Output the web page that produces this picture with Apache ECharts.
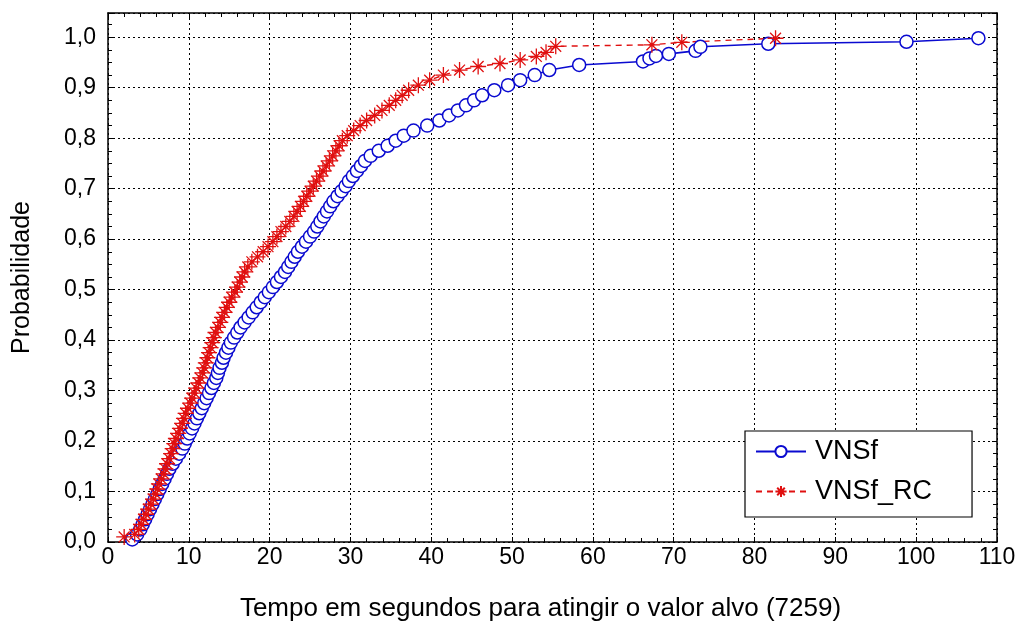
<!DOCTYPE html>
<html>
<head>
<meta charset="utf-8">
<script src="https://cdn.jsdelivr.net/npm/echarts@6/dist/echarts.min.js"></script>
<style>html,body{margin:0;padding:0;background:#fff}#c{width:1023px;height:630px}</style>
</head>
<body>
<div id="c"></div>
<script>
// ---- data ----
var xTicks = [0, 10, 20, 30, 40, 50, 60, 70, 80, 90, 100, 110];
var yTicks = [0, 0.1, 0.2, 0.3, 0.4, 0.5, 0.6, 0.7, 0.8, 0.9, 1.0];
var seriesNames = ['VNSf', 'VNSf_RC'];

var vnsfTime = [3.0, 3.6, 4.0, 4.3, 4.6, 4.9, 5.2, 5.5, 5.8, 6.1,
  6.4, 6.7, 7.0, 7.3, 7.6, 8.0, 8.4, 8.8, 9.2, 9.5,
  9.8, 10.1, 10.4, 10.7, 11.0, 11.3, 11.6, 11.9, 12.2, 12.5,
  12.8, 13.1, 13.4, 13.6, 13.8, 14.1, 14.3, 14.6, 14.9, 15.2,
  15.6, 16.0, 16.4, 16.9, 17.4, 17.9, 18.4, 18.9, 19.4, 19.9,
  20.4, 20.9, 21.4, 21.9, 22.3, 22.7, 23.1, 23.5, 24.0, 24.5,
  25.0, 25.5, 25.9, 26.3, 26.7, 27.1, 27.5, 27.9, 28.4, 28.9,
  29.4, 29.8, 30.3, 30.8, 31.3, 31.8, 32.5, 33.5, 34.6, 35.6,
  36.6, 37.8, 39.5, 41.0, 42.2, 43.3, 44.3, 45.3, 46.3, 47.8,
  49.5, 51.0, 52.8, 54.6, 58.3, 66.2, 67.0, 67.8, 69.4, 72.7,
  73.3, 81.7, 98.8, 107.7];
var vnsfProb = [0.005, 0.015, 0.025, 0.035, 0.045, 0.055, 0.065, 0.075, 0.085, 0.095,
  0.105, 0.115, 0.125, 0.135, 0.145, 0.155, 0.165, 0.175, 0.185, 0.195,
  0.205, 0.215, 0.225, 0.235, 0.245, 0.255, 0.265, 0.275, 0.285, 0.295,
  0.305, 0.315, 0.325, 0.335, 0.345, 0.355, 0.365, 0.375, 0.385, 0.395,
  0.405, 0.415, 0.425, 0.435, 0.445, 0.455, 0.465, 0.475, 0.485, 0.495,
  0.505, 0.515, 0.525, 0.535, 0.545, 0.555, 0.565, 0.575, 0.585, 0.595,
  0.605, 0.615, 0.625, 0.635, 0.645, 0.655, 0.665, 0.675, 0.685, 0.695,
  0.705, 0.715, 0.725, 0.735, 0.745, 0.755, 0.765, 0.775, 0.785, 0.795,
  0.805, 0.815, 0.825, 0.835, 0.845, 0.855, 0.865, 0.875, 0.885, 0.895,
  0.905, 0.915, 0.925, 0.935, 0.945, 0.952, 0.958, 0.963, 0.967, 0.973,
  0.981, 0.987, 0.991, 0.998];

var vnsfRcTime = [2.0, 3.3, 3.8, 4.1, 4.4, 4.7, 5.0, 5.3, 5.6, 5.9,
  6.1, 6.3, 6.6, 6.9, 7.1, 7.3, 7.6, 7.8, 8.0, 8.2,
  8.4, 8.7, 8.9, 9.2, 9.4, 9.6, 9.9, 10.2, 10.4, 10.7,
  10.9, 11.2, 11.4, 11.7, 11.9, 12.1, 12.3, 12.5, 12.7, 12.9,
  13.1, 13.3, 13.6, 13.9, 14.1, 14.4, 14.7, 15.0, 15.3, 15.7,
  16.0, 16.3, 16.6, 16.9, 17.3, 17.8, 18.5, 19.2, 19.8, 20.4,
  20.9, 21.4, 22.0, 22.5, 23.0, 23.4, 23.8, 24.2, 24.6, 25.0,
  25.4, 25.8, 26.2, 26.6, 27.0, 27.4, 27.8, 28.2, 28.6, 29.0,
  29.6, 30.4, 31.2, 32.0, 33.0, 33.9, 34.8, 35.6, 36.4, 37.2,
  38.4, 39.8, 41.5, 43.5, 45.8, 48.5, 51.0, 53.0, 54.2, 55.4,
  67.3, 71.0, 82.6];
var vnsfRcProb = [0.01, 0.015, 0.025, 0.035, 0.045, 0.055, 0.065, 0.075, 0.085, 0.095,
  0.105, 0.115, 0.125, 0.135, 0.145, 0.155, 0.165, 0.175, 0.185, 0.195,
  0.205, 0.215, 0.225, 0.235, 0.245, 0.255, 0.265, 0.275, 0.285, 0.295,
  0.305, 0.315, 0.325, 0.335, 0.345, 0.355, 0.365, 0.375, 0.385, 0.395,
  0.405, 0.415, 0.425, 0.435, 0.445, 0.455, 0.465, 0.475, 0.485, 0.495,
  0.505, 0.515, 0.525, 0.535, 0.545, 0.555, 0.565, 0.575, 0.585, 0.595,
  0.605, 0.615, 0.625, 0.635, 0.645, 0.655, 0.665, 0.675, 0.685, 0.695,
  0.705, 0.715, 0.725, 0.735, 0.745, 0.755, 0.765, 0.775, 0.785, 0.795,
  0.805, 0.815, 0.825, 0.835, 0.845, 0.855, 0.865, 0.875, 0.885, 0.895,
  0.905, 0.915, 0.925, 0.935, 0.942, 0.948, 0.955, 0.962, 0.97, 0.982,
  0.985, 0.99, 0.998];

function zip(xs, ys) { return xs.map(function (x, i) { return [x, ys[i]]; }); }

var BLUE = '#0a0ad0';
var RED = '#e01010';
var FONT = 'Liberation Sans, Arial, sans-serif';
var asterisk = 'path://M0,5L10,5M5,0L5,10M1.6,1.6L8.4,8.4M8.4,1.6L1.6,8.4';

var yLabel = function (v) {
  for (var i = 0; i < yTicks.length; i++) {
    if (Math.abs(v - yTicks[i]) < 1e-6) return yTicks[i].toFixed(1).replace('.', ',');
  }
  return '';
};

var frameAxisLine = { show: true, onZero: false, lineStyle: { color: '#000', width: 1.5 } };
var dotted = { show: true, lineStyle: { color: '#000', width: 1, type: [2, 3] } };

var chart = echarts.init(document.getElementById('c'), null, { renderer: 'canvas' });
chart.setOption({
  backgroundColor: '#fff',
  animation: false,
  grid: { left: 108, right: 26, top: 13, bottom: 88, containLabel: false },
  legend: {
    data: seriesNames,
    orient: 'vertical',
    left: 745, top: 431,
    padding: [7, 40, 12, 10],
    itemWidth: 50, itemHeight: 14, itemGap: 13,
    backgroundColor: '#fff',
    borderColor: '#000', borderWidth: 1.2, borderRadius: 0,
    textStyle: { fontFamily: FONT, fontSize: 27, color: '#000', padding: [0, 0, 0, 4] }
  },
  xAxis: [{
    type: 'value', min: xTicks[0], max: xTicks[xTicks.length - 1], interval: 10,
    name: 'Tempo em segundos para atingir o valor alvo (7259)',
    nameLocation: 'middle', nameGap: 54,
    nameTextStyle: { fontFamily: FONT, fontSize: 26, color: '#000', padding: [0, 24, 0, 0] },
    axisLine: frameAxisLine,
    axisTick: { show: true, inside: true, length: 5, lineStyle: { color: '#000' } },
    minorTick: { show: true, splitNumber: 5, length: 4, lineStyle: { color: '#000' } },
    axisLabel: { fontFamily: FONT, fontSize: 23, color: '#000', margin: 4 },
    splitLine: dotted
  }, {
    type: 'value', position: 'top', min: xTicks[0], max: xTicks[xTicks.length - 1], interval: 10,
    axisLine: frameAxisLine,
    axisTick: { show: true, inside: true, length: 5, lineStyle: { color: '#000' } },
    minorTick: { show: true, splitNumber: 5, length: 4, lineStyle: { color: '#000' } },
    axisLabel: { show: false }, splitLine: { show: false }
  }],
  yAxis: [{
    type: 'value', min: 0, max: 1.048, interval: 0.1,
    name: 'Probabilidade', nameLocation: 'middle', nameGap: 73, nameRotate: 90,
    nameTextStyle: { fontFamily: FONT, fontSize: 25, color: '#000' },
    axisLine: frameAxisLine,
    axisTick: { show: true, inside: true, length: 5, lineStyle: { color: '#000' } },
    minorTick: { show: true, splitNumber: 4, length: 4, lineStyle: { color: '#000' } },
    axisLabel: { fontFamily: FONT, fontSize: 23, color: '#000', margin: 12, formatter: yLabel },
    splitLine: dotted
  }, {
    type: 'value', position: 'right', min: 0, max: 1.048, interval: 0.1,
    axisLine: frameAxisLine,
    axisTick: { show: true, inside: true, length: 5, lineStyle: { color: '#000' } },
    minorTick: { show: true, splitNumber: 4, length: 4, lineStyle: { color: '#000' } },
    axisLabel: { show: false }, splitLine: { show: false }
  }],
  series: [{
    name: seriesNames[0], type: 'line', xAxisIndex: 0, yAxisIndex: 0,
    data: zip(vnsfTime, vnsfProb),
    symbol: 'circle', symbolSize: 13, showAllSymbol: true,
    lineStyle: { color: BLUE, width: 1.6 },
    itemStyle: { color: '#fff', borderColor: BLUE, borderWidth: 1.5 }
  }, {
    name: seriesNames[1], type: 'line', xAxisIndex: 0, yAxisIndex: 0,
    data: zip(vnsfRcTime, vnsfRcProb),
    symbol: asterisk, symbolSize: 16, showAllSymbol: true,
    lineStyle: { color: RED, width: 1.4, type: [6, 5] },
    itemStyle: { color: 'rgba(0,0,0,0)', borderColor: RED, borderWidth: 1.3 }
  }]
});
</script>
</body>
</html>
